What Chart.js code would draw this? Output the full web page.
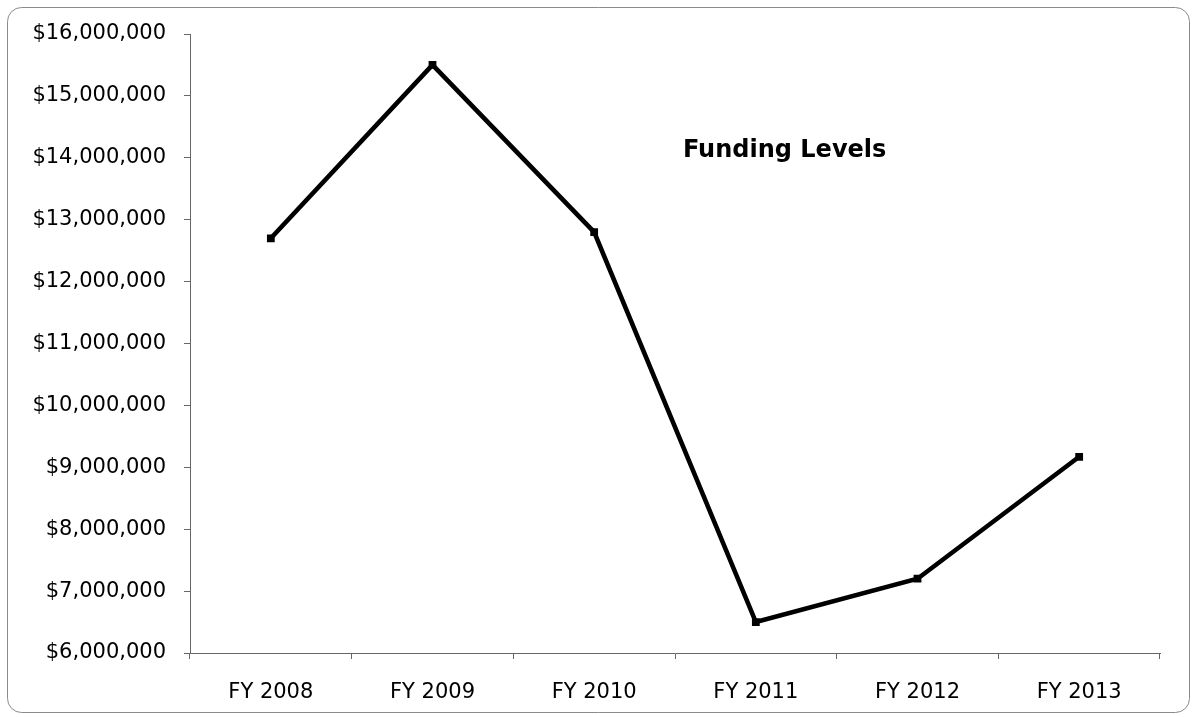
<!DOCTYPE html>
<html>
<head>
<meta charset="utf-8">
<script src="https://cdn.jsdelivr.net/npm/chart.js@4"></script>
<style>
  html, body { margin: 0; padding: 0; background: #fff; }
  #wrap { width: 1196px; height: 717px; }
</style>
</head>
<body>
<div id="wrap"><canvas id="fundingChart" width="1196" height="717"></canvas></div>
<script>
const years = ['FY 2008', 'FY 2009', 'FY 2010', 'FY 2011', 'FY 2012', 'FY 2013']
const funding = [12700000, 15500000, 12800000, 6500000, 7200000, 9170000]
const yMin = 6000000
const yMax = 16000000
const yStep = 1000000
const chartTitle = 'Funding Levels'

const fontFamily = '"DejaVu Sans", Verdana, sans-serif'

// rounded frame around the whole chart
const framePlugin = {
    id: 'frame',
    beforeDraw(chart) {
        const ctx = chart.ctx
        ctx.save()
        ctx.strokeStyle = '#8a8a8a'
        ctx.lineWidth = 1
        ctx.beginPath()
        ctx.roundRect(7.5, 7.5, chart.width - 14, chart.height - 12, 14)
        ctx.stroke()
        ctx.restore()
    }
}

// title sits inside the plot, up and right of centre
const innerTitle = {
    id: 'innerTitle',
    afterDraw(chart) {
        const { left, top, width, height } = chart.chartArea
        const ctx = chart.ctx
        ctx.save()
        ctx.font = 'bold 24px ' + fontFamily
        ctx.fillStyle = '#000'
        ctx.textAlign = 'center'
        ctx.textBaseline = 'middle'
        ctx.fillText(chartTitle, left + width * 0.613, top + height * 0.188)
        ctx.restore()
    }
}

const ctx = document.getElementById('fundingChart').getContext('2d')
new Chart(ctx, {
    type: 'line',
    data: {
        labels: years,
        datasets: [{
            label: chartTitle,
            data: funding,
            borderColor: '#000',
            backgroundColor: '#000',
            borderWidth: 4.6,
            tension: 0,
            fill: false,
            pointStyle: 'rect',
            pointRadius: 5.5,
            pointBorderWidth: 0,
            pointHoverRadius: 5.5
        }]
    },
    options: {
        responsive: false,
        animation: false,
        events: [],
        layout: {
            padding: { top: 34, right: 36, bottom: 0, left: 0 }
        },
        scales: {
            x: {
                offset: true,
                afterFit: (scale) => { scale.height = 64 },
                grid: {
                    offset: true,
                    drawOnChartArea: false,
                    tickLength: 6,
                    color: '#666'
                },
                border: { color: '#666', width: 1 },
                ticks: {
                    color: '#000',
                    padding: 21,
                    maxRotation: 0,
                    font: { family: fontFamily, size: 21 }
                }
            },
            y: {
                min: yMin,
                max: yMax,
                afterFit: (scale) => { scale.width = 190 },
                grid: {
                    drawOnChartArea: false,
                    tickLength: 6,
                    color: '#666'
                },
                border: { color: '#666', width: 1 },
                ticks: {
                    stepSize: yStep,
                    color: '#000',
                    padding: 18,
                    font: { family: fontFamily, size: 21 },
                    callback: (v) => '$' + v.toLocaleString('en-US')
                }
            }
        },
        plugins: {
            legend: { display: false },
            title: { display: false },
            tooltip: { enabled: false }
        }
    },
    plugins: [framePlugin, innerTitle]
})
</script>
</body>
</html>
